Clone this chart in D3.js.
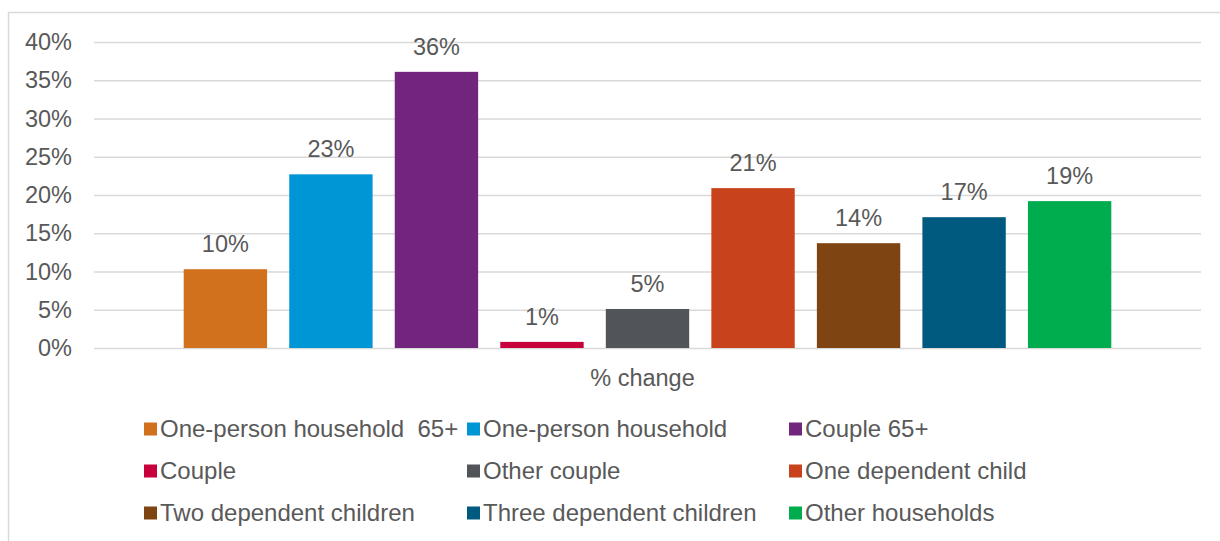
<!DOCTYPE html>
<html>
<head>
<meta charset="utf-8">
<script src="https://cdn.jsdelivr.net/npm/d3@7"></script>
<style>
  body { margin: 0; background: #fff; }
  text { font-family: "Liberation Sans", Arial, sans-serif; fill: #595959; }
</style>
</head>
<body>
<div id="chart"></div>
<script>
const series = ["One-person household  65+", "One-person household", "Couple 65+",
  "Couple", "Other couple", "One dependent child",
  "Two dependent children", "Three dependent children", "Other households"]
const values = [0.103, 0.227, 0.361, 0.008, 0.051, 0.209, 0.137, 0.171, 0.192]
const labels = ["10%", "23%", "36%", "1%", "5%", "21%", "14%", "17%", "19%"]
const colors = ["#D2711D", "#0096D6", "#72257C", "#C8003C", "#515559", "#C8421B", "#7E4412", "#005A80", "#00AD4E"]
const yTicks = [0, 0.05, 0.1, 0.15, 0.2, 0.25, 0.3, 0.35, 0.4]
const category = "% change"

const width = 1220, height = 541
const fs = 23.5
const svg = d3.select("#chart").append("svg")
  .attr("width", width).attr("height", height)

svg.append("rect")
  .attr("x", 8.5).attr("y", 12.5)
  .attr("width", width).attr("height", height)
  .attr("fill", "none").attr("stroke", "#d9d9d9").attr("stroke-width", 1.5)

const x = d3.scaleBand().domain(series).range([94, 1201]).paddingInner(0.21).paddingOuter(0.85)
const y = d3.scaleLinear().domain([0, 0.4]).range([348, 42])

// gridlines + y labels
const yAxis = d3.axisLeft(y).tickValues(yTicks).tickFormat(d3.format(".0%"))
  .tickSize(-(1201 - 94)).tickPadding(22)
const gy = svg.append("g").attr("transform", "translate(94,0)").call(yAxis)
gy.select(".domain").remove()
gy.selectAll(".tick line").attr("stroke", "#d9d9d9").attr("stroke-width", 1.5)
gy.selectAll(".tick text").attr("font-size", fs).style("fill", "#595959")
  .attr("font-family", "Liberation Sans, Arial, sans-serif")

svg.selectAll(".bar")
  .data(values)
  .enter()
  .append("rect")
  .attr("class", "bar")
  .attr("x", (d, i) => x(series[i]))
  .attr("width", x.bandwidth())
  .attr("y", d => y(d))
  .attr("height", d => y(0) - y(d))
  .attr("fill", (d, i) => colors[i])

svg.selectAll(".lbl")
  .data(values)
  .enter()
  .append("text")
  .attr("class", "lbl")
  .attr("x", (d, i) => x(series[i]) + x.bandwidth() / 2)
  .attr("y", d => y(d) - 17)
  .attr("text-anchor", "middle")
  .attr("font-size", fs)
  .text((d, i) => labels[i])

svg.append("text")
  .attr("x", (94 + 1201) / 2 - 5).attr("y", 386)
  .attr("text-anchor", "middle").attr("font-size", fs)
  .text(category)

// legend, 3 columns
const colX = [144, 467, 789]
const rowY = [429, 471, 513]
const legend = svg.selectAll(".leg")
  .data(series)
  .enter()
  .append("g")
  .attr("class", "leg")
  .attr("transform", (d, i) => `translate(${colX[i % 3]},${rowY[Math.floor(i / 3)]})`)

legend.append("rect")
  .attr("x", 0).attr("y", -6.5)
  .attr("width", 13).attr("height", 13)
  .attr("fill", (d, i) => colors[i])

legend.append("text")
  .attr("x", 16).attr("y", 8)
  .attr("font-size", 24)
  .attr("xml:space", "preserve")
  .style("white-space", "pre")
  .text(d => d)
</script>
</body>
</html>
